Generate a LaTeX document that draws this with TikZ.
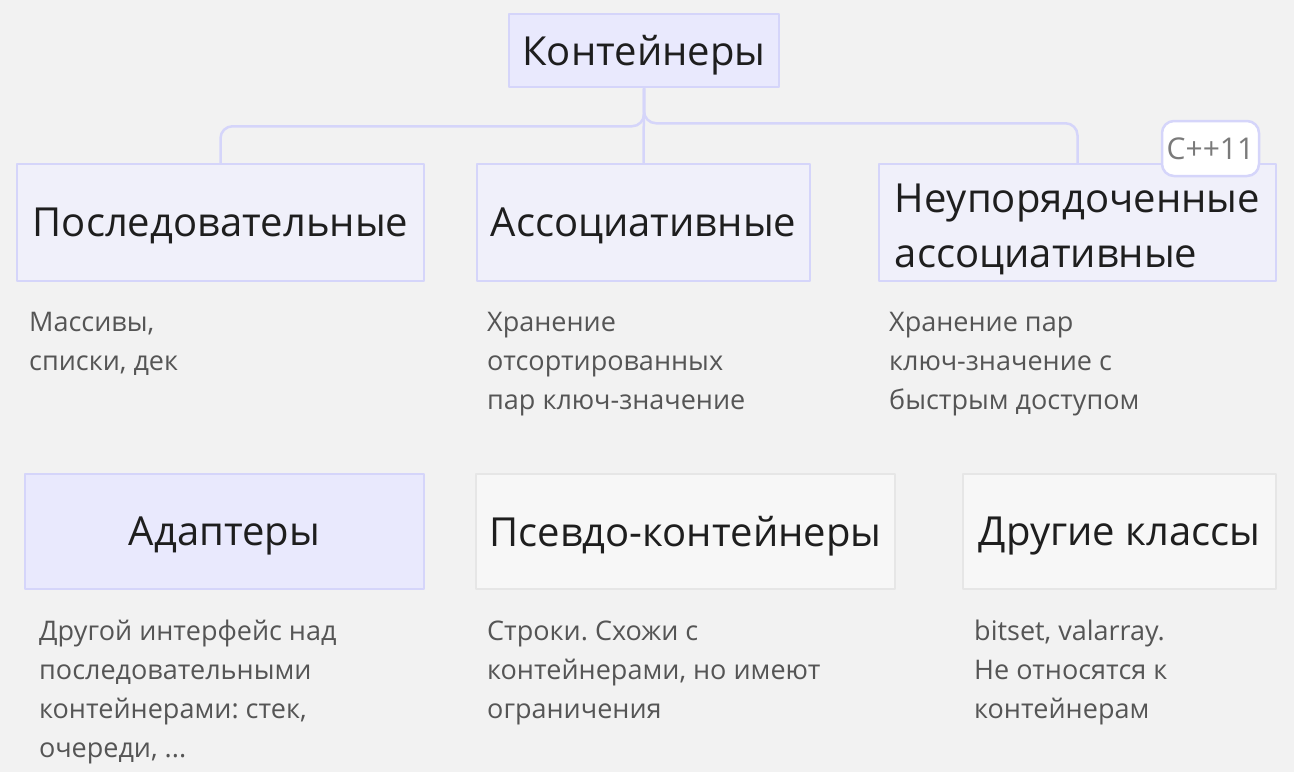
\documentclass[tikz,border=0pt]{standalone}
\usepackage{fontspec}
\setmainfont{Open Sans}
\usetikzlibrary{positioning}
\frenchspacing

\definecolor{paper}{HTML}{F2F2F2}
\definecolor{lavfill}{HTML}{E9E9FD}
\definecolor{lavlight}{HTML}{F0F0FA}
\definecolor{lavline}{HTML}{D5D5FA}
\definecolor{greyfill}{HTML}{F7F7F7}
\definecolor{greyline}{HTML}{E6E6E6}
\definecolor{inktext}{HTML}{1E1E1E}
\definecolor{notetext}{HTML}{555555}

\begin{document}
\begin{tikzpicture}[
      x = 1pt, y = -1pt,
      line join = round,
      topic/.style = {
        draw = lavline,
        line width = 2.5pt,
        fill = lavfill,
        text = inktext,
        font = \fontsize{40}{55}\selectfont,
        text depth = 0pt,
        minimum height = 115pt,
        inner sep = 0pt},
      subtopic/.style = {topic, fill = lavlight},
      other/.style = {topic, draw = greyline, fill = greyfill},
      note/.style = {
        anchor = base west,
        align = left,
        inner sep = 0pt,
        text = notetext,
        font = \fontsize{27}{39}\selectfont},
      badge/.style = {
        draw = lavline,
        line width = 2.5pt,
        fill = white,
        rounded corners = 12pt,
        text = black!52,
        font = \fontsize{30}{34}\selectfont,
        minimum width = 97pt,
        minimum height = 55pt,
        inner sep = 0pt},
      branch/.style = {
        draw = lavline,
        line width = 2.5pt,
        rounded corners = 12pt}]

      \fill[paper] (0,0) rectangle (1294,772);

      % main node
      \node[topic, minimum width = 270pt, minimum height = 73pt] (root) at (644,50.5) {Контейнеры};

      % second row
      \node[subtopic, minimum width = 407pt, minimum height = 117pt] (seq) at (220.5,222.5) {Последовательные};
      \node[subtopic, minimum width = 333pt, minimum height = 117pt] (assoc) at (643.5,222.5) {Ассоциативные};
      \node[subtopic, minimum width = 397pt, minimum height = 117pt, align = left, text height = 89pt] (unord) at (1077.5,222.5) {Неупорядоченные\\ассоциативные};
      \node[badge] (cxx) at (1210.5,148.5) {C++11};

      \path[branch] (root.south) -- ++(0,38) -| (seq.north);
      \path[branch] (root.south) -- (assoc.north);
      \path[branch] (root.south) -- ++(0,35) -| (unord.north);

      % notes: anchored on the baseline of their last line
      \node[note] (seqnote) at (29,370) {Массивы,\\списки, дек};
      \node[note] (assocnote) at (487,409) {Хранение\\отсортированных\\пар ключ-значение};
      \node[note] (unordnote) at (889,409) {Хранение пар\\ключ-значение с\\быстрым доступом};

      % third row
      \node[topic, minimum width = 399pt] (adapt) at (224.5,531.5) {Адаптеры};
      \node[other, minimum width = 419pt] (pseudo) at (685.5,531.5) {Псевдо-контейнеры};
      \node[other, minimum width = 313pt] (misc) at (1119.5,531.5) {Другие классы};

      \node[note] (adaptnote) at (39,757) {Другой интерфейс над\\последовательными\\контейнерами: стек,\\очереди, ...};
      \node[note] (pseudonote) at (487,718) {Строки. Схожи с\\контейнерами, но имеют\\ограничения};
      \node[note] (miscnote) at (974,718) {bitset, valarray.\\Не относятся к\\контейнерам};
\end{tikzpicture}
\end{document}
